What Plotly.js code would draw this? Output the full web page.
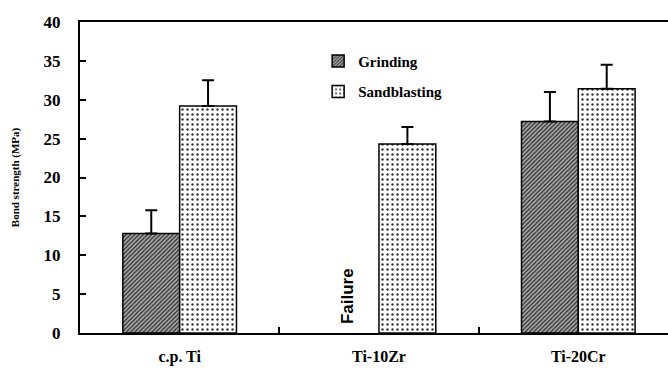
<!DOCTYPE html>
<html><head><meta charset="utf-8">
<script src="https://cdn.plot.ly/plotly-3.0.1.min.js"></script>
<style>body{margin:0;background:#fff}#chart{width:668px;height:375px}</style>
</head><body><div id="chart"></div>
<script>
const categories = ["c.p. Ti", "Ti-10Zr", "Ti-20Cr"];
const grinding = [12.8, null, 27.2];
const grindingErr = [3.0, 0, 3.8];
const sandblasting = [29.2, 24.3, 31.4];
const sandblastingErr = [3.3, 2.2, 3.1];
const yTicks = [0, 5, 10, 15, 20, 25, 30, 35, 40];

const serif = "Liberation Serif";
const zeros = categories.map(() => 0);

const traces = [
  {
    type: "bar", name: "Grinding", x: categories, y: grinding, legendgroup: "g",
    marker: {color: "#9a9a9a", line: {color: "#000", width: 1.5},
      pattern: {shape: "/", fgcolor: "#2a2a2a", bgcolor: "#a8a8a8", size: 3, solidity: 0.4}},
    error_y: {type: "data", symmetric: false, array: grindingErr, arrayminus: zeros,
      color: "#000", thickness: 2, width: 6}
  },
  {
    type: "bar", name: "Sandblasting", x: categories, y: sandblasting, legendgroup: "s",
    marker: {color: "#fff", line: {color: "#000", width: 1.5},
      pattern: {shape: ".", fgcolor: "#333", bgcolor: "#fff", size: 5, solidity: 0.18}},
    error_y: {type: "data", symmetric: false, array: sandblastingErr, arrayminus: zeros,
      color: "#000", thickness: 2, width: 6}
  }
];

const layout = {
  width: 668, height: 375,
  margin: {l: 80, r: 0, t: 22, b: 42},
  paper_bgcolor: "#fff", plot_bgcolor: "#fff",
  barmode: "group", bargap: 0.43, bargroupgap: 0,
  font: {family: serif, color: "#000"},
  showlegend: true,
  legend: {x: 0.405, y: 0.927, xanchor: "left", yanchor: "top", bgcolor: "rgba(0,0,0,0)",
    font: {family: serif, size: 15, color: "#000", weight: "bold"}, tracegroupgap: 8,
    itemwidth: 30},
  xaxis: {
    type: "category", range: [-0.5, 2.45], tickson: "boundaries",
    ticks: "inside", ticklen: 6, tickwidth: 2, tickcolor: "#000",
    showline: true, linecolor: "#000", linewidth: 2, mirror: true,
    showgrid: false, zeroline: false, ticklabelstandoff: 8,
    tickfont: {family: serif, size: 16, color: "#000", weight: "bold"}
  },
  yaxis: {
    range: [0, 40], tickvals: yTicks, ticktext: yTicks.map(String),
    ticks: "inside", ticklen: 6, tickwidth: 2, tickcolor: "#000",
    showline: true, linecolor: "#000", linewidth: 2, mirror: false,
    showgrid: false, zeroline: false, ticklabelstandoff: 14,
    tickfont: {family: serif, size: 17, color: "#000", weight: "bold"},
    title: {text: "Bond strength (MPa)", standoff: 22,
      font: {family: serif, size: 11, color: "#000", weight: "bold"}}
  },
  annotations: [{
    x: 0.84, y: 0.9, xref: "x", yref: "y", text: "Failure", textangle: -90,
    showarrow: false, yanchor: "bottom", xanchor: "center",
    font: {family: "Liberation Sans", size: 17, color: "#000", weight: "bold"}
  }]
};

Plotly.newPlot("chart", traces, layout, {displayModeBar: false, staticPlot: true});
</script>
</body></html>
